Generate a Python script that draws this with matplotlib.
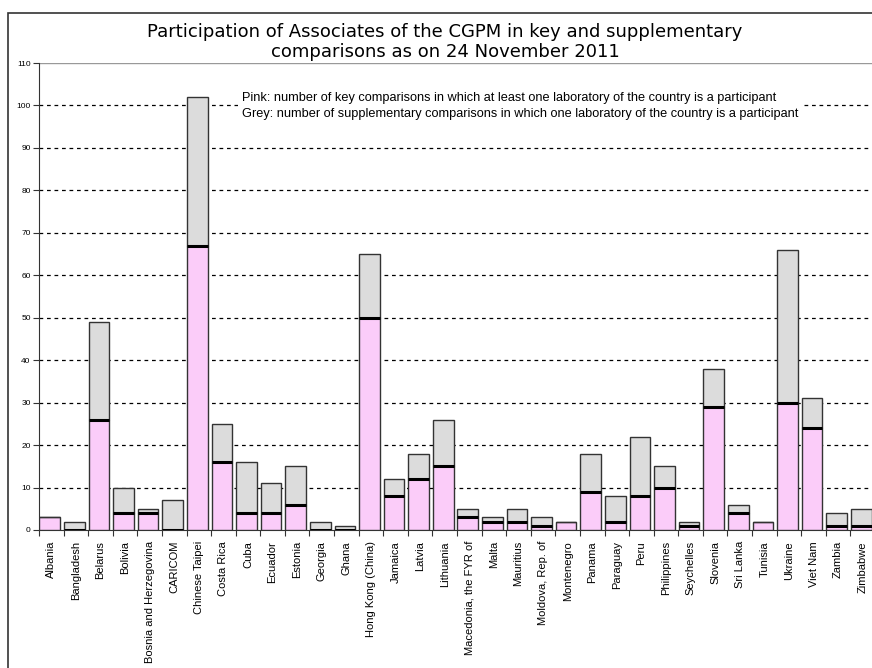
import numpy as np
import matplotlib
matplotlib.use('Agg')
import matplotlib.pyplot as plt

countries = ['Albania', 'Bangladesh', 'Belarus', 'Bolivia', 'Bosnia and Herzegovina',
             'CARICOM', 'Chinese Taipei', 'Costa Rica', 'Cuba', 'Ecuador', 'Estonia',
             'Georgia', 'Ghana', 'Hong Kong (China)', 'Jamaica', 'Latvia', 'Lithuania',
             'Macedonia, the FYR of', 'Malta', 'Mauritius', 'Moldova, Rep. of',
             'Montenegro', 'Panama', 'Paraguay', 'Peru', 'Philippines', 'Seychelles',
             'Slovenia', 'Sri Lanka', 'Tunisia', 'Ukraine', 'Viet Nam', 'Zambia', 'Zimbabwe']
# key comparisons (pink)
key = [3, 0, 26, 4, 4, 0, 67, 16, 4, 4, 6, 0, 0, 50, 8, 12, 15,
       3, 2, 2, 1, 2, 9, 2, 8, 10, 1, 29, 4, 2, 30, 24, 1, 1]
# supplementary comparisons (grey), stacked on top
supp = [0, 2, 23, 6, 1, 7, 35, 9, 12, 7, 9, 2, 1, 15, 4, 6, 11,
        2, 1, 3, 2, 0, 9, 6, 14, 5, 1, 9, 2, 0, 36, 7, 3, 4]

fig = plt.figure(figsize=(8.72, 6.68), dpi=100)
plt.rcParams['font.family'] = ['Liberation Sans', 'DejaVu Sans']

# outer chart frame
fig.patches.append(plt.Rectangle((8/872, -0.01), 1.0, 1 - 13/668 + 0.01, transform=fig.transFigure,
                                 fill=False, edgecolor='#333333', lw=1.2))

W, H = 872.0, 668.0
ax = fig.add_axes([39/W, (H-530)/H, 836/W, (530-63)/H])
x = np.arange(len(countries))
bw = 0.84
xc = x - 0.06

ax.set_ylim(0, 110)
ax.set_xlim(-0.5, len(countries) - 0.5)
for v in range(10, 101, 10):
    ax.axhline(v, color='black', lw=0.9, ls=(0, (3, 3)), zorder=1)
ax.axhline(110, color='#999999', lw=1, zorder=1)

ax.bar(xc, key, bw, color='#FBCCF9', edgecolor='#333333', lw=1, zorder=3)
ax.bar(xc, supp, bw, bottom=key, color='#DCDCDC', edgecolor='#333333', lw=1, zorder=3)
k = np.array(key)
s = np.array(supp)
m = s > 0
ax.hlines(k[m], xc[m] - bw/2, xc[m] + bw/2, color='black', lw=2.2, zorder=4)

ax.set_yticks(range(0, 111, 10))
ax.set_yticklabels([str(v) for v in range(0, 111, 10)], fontsize=6)
ax.set_xticks(np.arange(-0.5, len(countries), 1.0))
ax.set_xticklabels([])
ax.set_xticks(x, minor=True)
ax.set_xticklabels(countries, minor=True, rotation=90, fontsize=8, va='top')
ax.tick_params(axis='x', which='minor', length=0, pad=8)
ax.tick_params(axis='x', which='major', length=4, color='#333333')
ax.tick_params(axis='y', length=4, color='#333333', pad=2)

for sp in ['top', 'right']:
    ax.spines[sp].set_visible(False)
ax.spines['left'].set_color('#333333')
ax.spines['bottom'].set_color('#333333')

ax.text(242/W, (H-106)/H,
        'Pink: number of key comparisons in which at least one laboratory of the country is a participant\n'
        'Grey: number of supplementary comparisons in which one laboratory of the country is a participant',
        transform=fig.transFigure, fontsize=9.2, va='center', ha='left', linespacing=1.35,
        bbox=dict(facecolor='white', edgecolor='none', pad=3), zorder=5)

fig.text(445/W, (H-42)/H,
         'Participation of Associates of the CGPM in key and supplementary\ncomparisons as on 24 November 2011',
         fontsize=13, family='DejaVu Sans', ha='center', va='center', linespacing=1.1)

fig.savefig('out.png', dpi=100)
